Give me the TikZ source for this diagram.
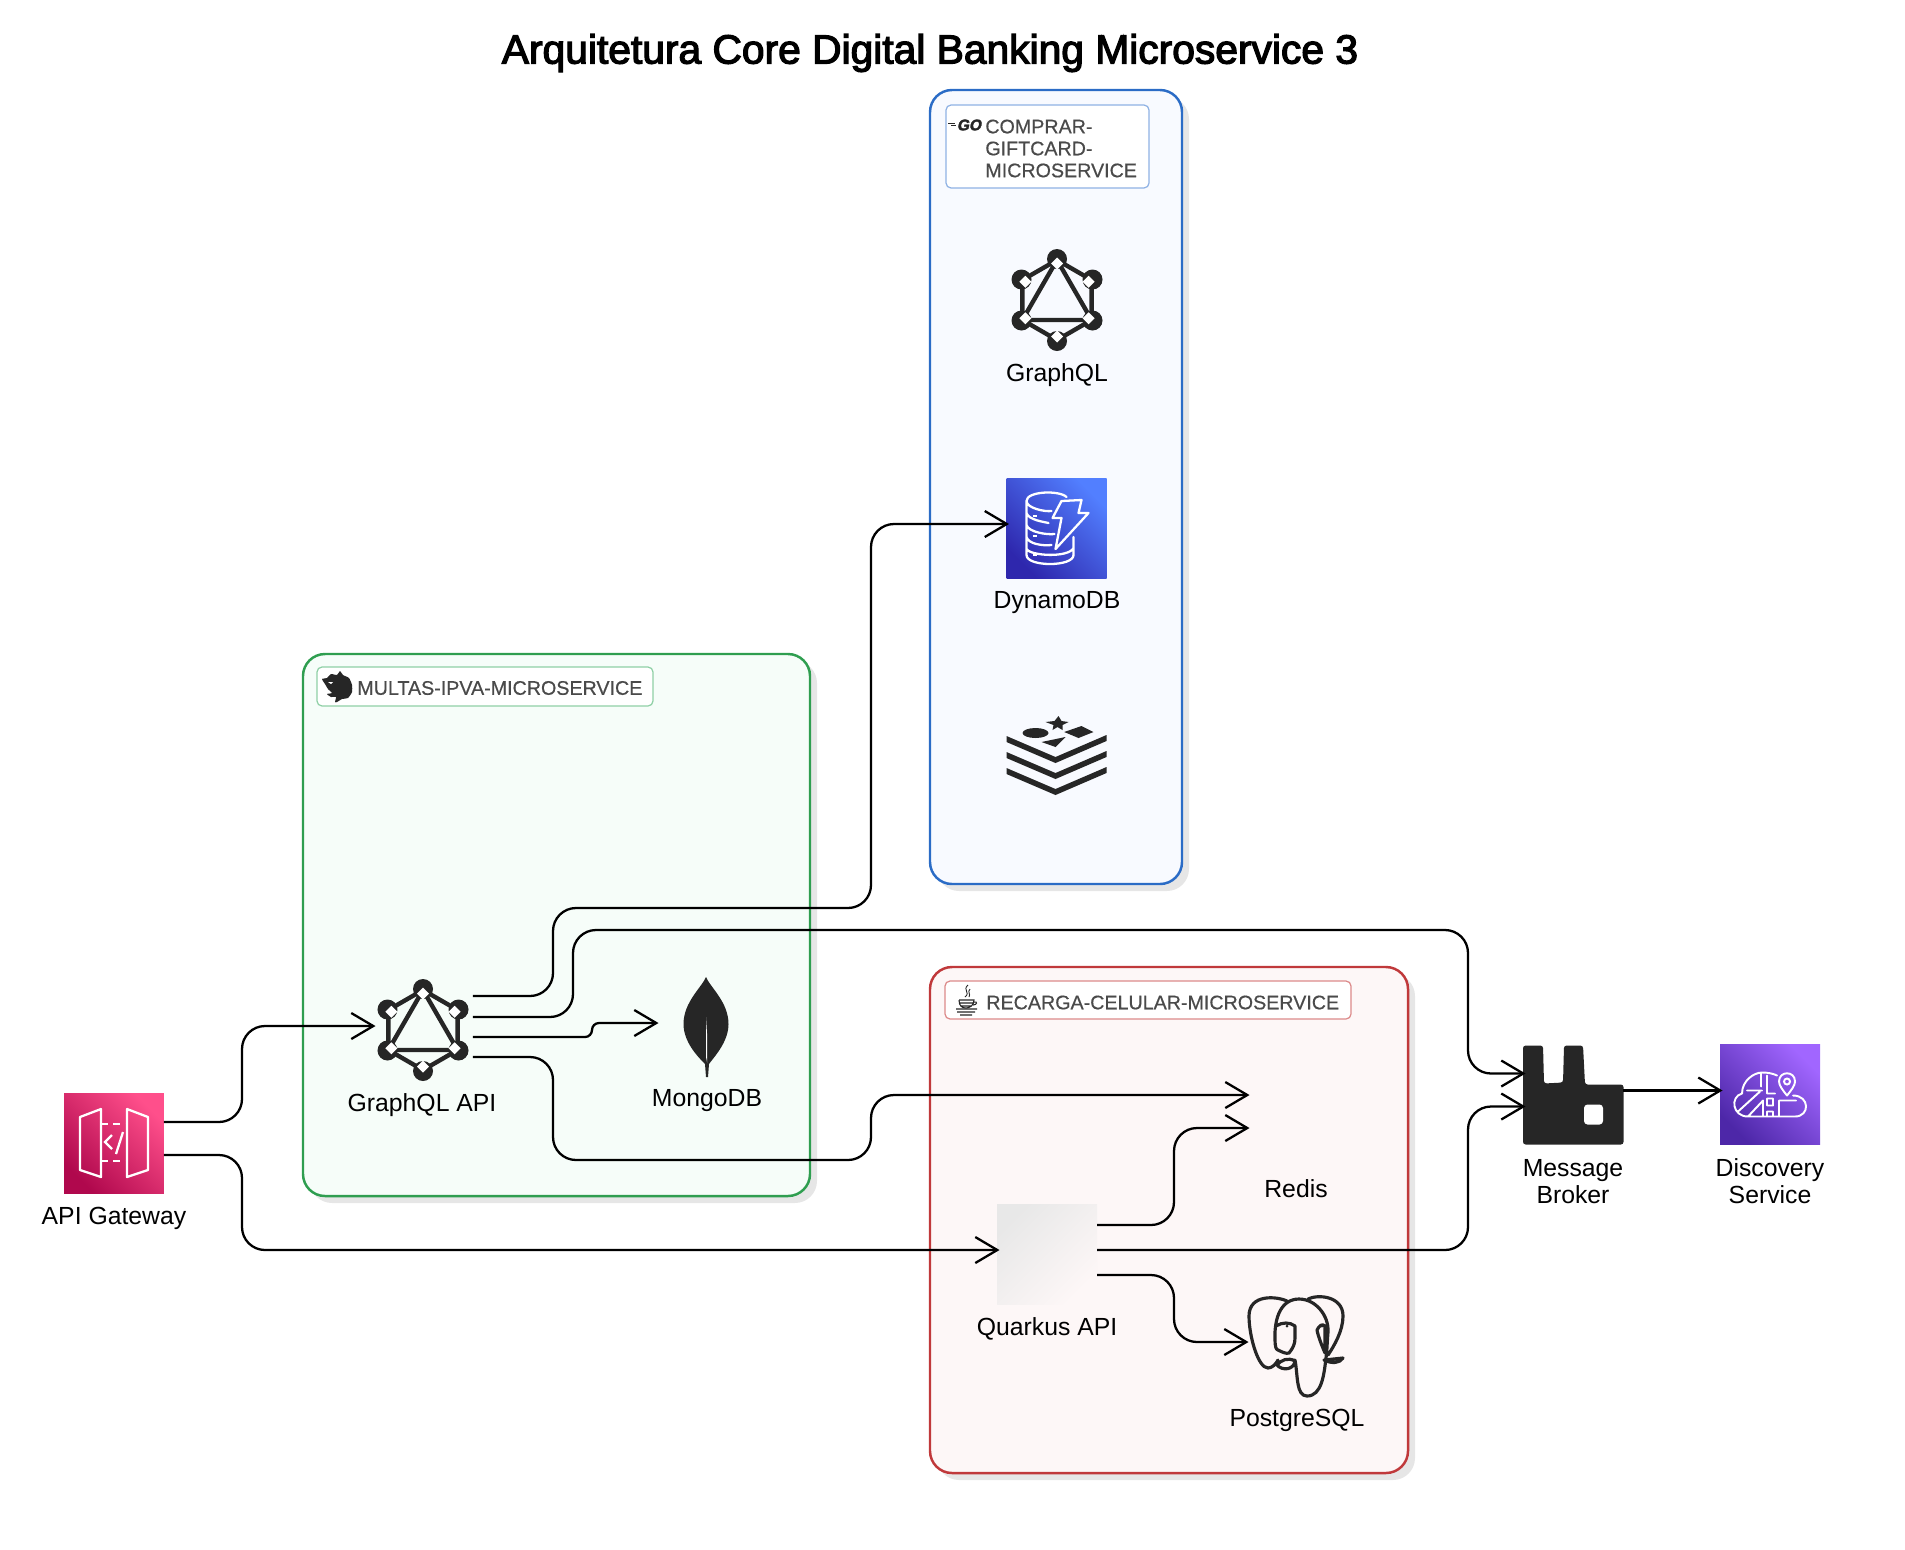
\documentclass[tikz,border=0pt]{standalone}
\usepackage{fontspec}
\setmainfont{Liberation Sans}
\newfontface\titlefont[FakeBold=3]{Liberation Sans}
\newfontface\tagfont[FakeBold=.5]{Liberation Sans}
\newfontface\gofont[FakeBold=2,FakeSlant=.2]{Liberation Sans Bold}
\usetikzlibrary{arrows.meta,calc,fit,shadows}
\definecolor{icondark}{HTML}{262626}
\definecolor{tagtextcolor}{HTML}{4A4A4A}
\definecolor{shadowgray}{HTML}{E6E6E6}
\definecolor{goblue}{HTML}{2B6CC6}
\definecolor{gofill}{HTML}{F8FAFF}
\definecolor{gotag}{HTML}{8FB2E4}
\definecolor{nestgreen}{HTML}{2F9E50}
\definecolor{nestfill}{HTML}{F6FDF9}
\definecolor{nesttag}{HTML}{8FD0A6}
\definecolor{javared}{HTML}{C0393B}
\definecolor{javafill}{HTML}{FDF7F7}
\definecolor{javatag}{HTML}{DC8A8A}
\definecolor{dynamolow}{HTML}{2E27AD}
\definecolor{dynamohigh}{HTML}{527FFF}
\definecolor{gatewaylow}{HTML}{B0084D}
\definecolor{gatewayhigh}{HTML}{FF4F8B}
\definecolor{discoverylow}{HTML}{4D27A8}
\definecolor{discoveryhigh}{HTML}{A166FF}
\tikzset{
    groupbox/.style={draw=#1,line width=1.4pt,rounded corners=.44cm,inner sep=0pt,outer sep=0pt,
        drop shadow={shadow xshift=.14cm,shadow yshift=-.14cm,fill=shadowgray,opacity=1}},
    tagbox/.style={draw=#1,fill=white,line width=.7pt,rounded corners=.1cm,inner sep=0pt,outer sep=0pt},
    tagtext/.style={anchor=west,align=left,inner sep=0pt,text=tagtextcolor,font=\fontsize{11.2}{12.5}\tagfont},
    iconbox/.style={rectangle,minimum size=2cm,inner sep=0pt,outer sep=0pt},
    awsicon/.style 2 args={iconbox,bottom color=#1,top color=#2,shading angle=-45},
    iconlabel/.style={align=center,inner sep=0pt,font=\fontsize{14.1}{15.4}\selectfont},
    conn/.style={-{Straight Barb[length=.44cm,width=.52cm]},line width=1.3pt,rounded corners=.46cm,shorten >=-.05cm},
    graphql mark/.pic={
        \draw[icondark,line width=2.5pt,line join=round] (90:40) -- (30:40) -- (-30:40) -- (-90:40) -- (-150:40) -- (150:40) -- cycle;
        \draw[icondark,line width=2.5pt,line join=round] (-90:40) -- (30:40) -- (150:40) -- cycle;
        \foreach \a in {30,90,...,330} {
            \fill[icondark] (\a:41) circle (10);
            \fill[white] (\a:36.5) ++(0,-6) -- ++(6,6) -- ++(-6,6) -- ++(-6,-6) -- cycle;
        }
    },
    dynamo mark/.pic={
        \draw[white,line width=1.3pt,line join=round,line cap=round]
            (10,-31) .. controls (3,-38) and (-30,-37) .. (-30,-27) .. controls (-30,-20) and (-12,-16) .. (-5,-17)
            (-30,-27) -- (-30,27) .. controls (-30,39) and (17,39) .. (17,27) -- (17,9)
            (-30,-15) .. controls (-28,-8) and (-12,-6) .. (-8,-5)
            (-30,-3) .. controls (-28,4) and (-10,7) .. (-2,6)
            (-30,9) .. controls (-28,16) and (-14,18) .. (-5,17)
            (-30,21) .. controls (-26,28) and (12,30) .. (17,20);
        \draw[white,line width=1.3pt,line join=round] (5,-27) -- (25,-28) -- (22,-15) -- (32,-15) -- (-1,21) -- (5,-10) -- (-4,-10) -- cycle;
        \foreach \yy in {-12,8,27} { \draw[white,line width=1.3pt] (-24,\yy) -- (-20,\yy); }
    },
    redis mark/.pic={
        \foreach \yy in {0,16,32} {
            \fill[icondark] (-50,-20+\yy) -- (-1,1+\yy) -- (50,-21+\yy) -- (50,-15+\yy) -- (-1,7+\yy) -- (-50,-14+\yy) -- cycle;
        }
        \fill[icondark] (-21,-23) ellipse (13 and 5);
        \fill[icondark] (7.7,-24) -- (25,-30) -- (37,-24) -- (22,-18) -- cycle;
        \fill[icondark] (-15,-14) -- (9,-19) -- (-1,-9) -- cycle;
        \fill[icondark] (2,-40) -- (5,-35) -- (12,-34) -- (6,-31) -- (6,-26) -- (1,-29) -- (-4,-26) -- (-3,-31) -- (-11,-34) -- (-2,-35) -- cycle;
    },
    gateway mark/.pic={
        \draw[white,line width=1.3pt,line join=round] (-34,-26) -- (-13,-34) -- (-13,34) -- (-34,27) -- cycle;
        \draw[white,line width=1.3pt,line join=round] (13,-34) -- (34,-26) -- (34,27) -- (13,34) -- cycle;
        \draw[white,line width=1.3pt,dash pattern=on 4pt off 3pt] (-13,-19) -- (13,-19) (-13,18) -- (13,18);
        \draw[white,line width=1.3pt] (-2,-8) -- (-9,-1) -- (-2,6) (9,-11) -- (2,11);
    },
    discovery mark/.pic={
        \draw[white,line width=1.1pt,line join=round,line cap=round]
            (-22,22) .. controls (-38,22) and (-40,2) .. (-28,-1) .. controls (-28,-14) and (-16,-22) .. (-8,-22) .. controls (-2,-22) and (3,-21) .. (7,-19)
            (-22,22) -- (25,22) .. controls (40,22) and (40,1) .. (23,1)
            (-32,17) -- (-10,-3) (-22,22) -- (-7,6) -- (-7,22) (-23,-4) -- (-8,-4) (-9,-22) -- (-9,-8)
            (-3,-19) -- (-3,-1) -- (5,-1)
            (-3,4) rectangle (3,11)
            (-3,17) rectangle (3,22)
            (9,22) -- (9,6) -- (26,6);
        \draw[white,line width=1.1pt,line join=round] (17,1) .. controls (13,-4) and (9,-9) .. (9,-13) .. controls (9,-24) and (25,-24) .. (25,-13) .. controls (25,-9) and (21,-4) .. (17,1) -- cycle;
        \draw[white,line width=1.1pt] (17,-13) circle (3);
    },
    broker mark/.pic={
        \fill[icondark,rounded corners=1.5pt] (-50,-49) -- (-30,-49) -- (-29,-11) -- (-10,-12) -- (-9,-49) -- (10,-49) -- (12,-10) -- (50.5,-10) -- (50.5,50) -- (-50,50) -- cycle;
        \fill[white,rounded corners=2pt] (11,10) rectangle (30,30);
    },
    mongo mark/.pic={
        \fill[icondark] (0,-50) .. controls (4,-40) and (22.5,-25) .. (22.5,-3) .. controls (22.5,15) and (8,30) .. (3,37) -- (2,50) -- (0,50) -- (-1,37) .. controls (-8,30) and (-22.5,15) .. (-22.5,-3) .. controls (-22.5,-25) and (-4,-40) .. (0,-50) -- cycle;
        \fill[white] (0,-10) -- (1.2,10) -- (1.2,36) -- (0,30) -- cycle;
    },
    postgres mark/.pic={
        \draw[icondark,line width=1.8pt,line join=round,line cap=round]
            (-9,-45) .. controls (-20,-50) and (-47,-52) .. (-47,-30) .. controls (-47,-10) and (-38,22) .. (-28,22) .. controls (-24,22) and (-20,18) .. (-18,14)
            (-21,-6) .. controls (-22,-30) and (-14,-47) .. (3,-47) .. controls (20,-47) and (33,-30) .. (32,-14) .. controls (31,-2) and (31,5) .. (30,12) .. controls (28,28) and (26,50) .. (11,50) .. controls (0,50) and (2,30) .. (-1,14)
            (-21,-6) .. controls (-21,0) and (-20,4) .. (-18,4) .. controls (-14,6) and (-10,8) .. (-7,7) .. controls (-3,2) and (-1,-2) .. (-1,-8) -- (-1,-20) .. controls (-6,-24) and (-14,-24) .. (-20,-20)
            (12,-47) .. controls (22,-52) and (47,-50) .. (47,-30) .. controls (47,-15) and (38,0) .. (32,9)
            (21,-16) .. controls (22,-10) and (26,0) .. (29,7) -- (29,-20) .. controls (26,-23) and (23,-20) .. (21,-16)
            (28,14) -- (47,12) .. controls (44,17) and (36,18) .. (28,14)
            (-19,19) .. controls (-15,14) and (-8,11) .. (-1,15) .. controls (-2,24) and (-14,25) .. (-19,19);
        \fill[icondark] (-9,-20) circle (1.5) (26,-20) circle (1.5);
    },
    nest mark/.pic={
        \fill[icondark] plot[smooth cycle,tension=.35] coordinates {(-15,-8) (-10,-9) (-6,-13) (0,-12) (3,-16) (6,-12) (12,-9) (15,-2) (15,5) (11,11) (5,12) (0,15) (-2,15) (-1,10) (-6,10) (-10,7) (-5,6) (-9,2) (-12,-3)};
        \fill[white] (-9,-5) -- (-4,-5) -- (-6,-3) -- cycle;
    },
    java mark/.pic={
        \draw[icondark,line width=.5pt] (2,-15) .. controls (-4,-10) and (5,-8) .. (-1,-3) (4,-11) .. controls (1,-8) and (5,-6) .. (3,-3);
        \draw[icondark,line width=.6pt] (-7,0) -- (8,0) .. controls (8,6) and (3,8) .. (0,8) .. controls (-4,8) and (-7,6) .. (-7,0) (-6,3) -- (7,3) (-5,6) -- (5,6);
        \draw[icondark,line width=.6pt] (8,2) .. controls (12,1) and (11,5) .. (7,5) (-10,9) -- (11,9) (-9,12) -- (9,12) (-6,15) -- (6,15);
    },
    go mark/.pic={
        \node[inner sep=0pt,text=icondark,font=\fontsize{8.8}{8.8}\gofont] (gotext) at (7,0) {GO};
        \draw[icondark,line width=.4pt] (-14,-2) -- (-7,-2) (-11,0) -- (-6,0);
    },
}

\begin{document}
\begin{tikzpicture}[x=.02cm,y=-.02cm]
    \useasboundingbox (0,0) rectangle (1905,1549);

    \node[inner sep=0pt,font=\fontsize{23.2}{26}\titlefont] (title) at (930,53) {Arquitetura Core Digital Banking Microservice 3};

    \node[groupbox=goblue,fill=gofill,fit={(930,90) (1182,884)}] (gogroup) {};
    \node[tagbox=gotag,fit={(946,105) (1149,188)}] (gotagbox) {};
    \node[tagtext] (gotagtext) at (985,148.5) {COMPRAR-\\GIFTCARD-\\MICROSERVICE};
    \pic at (962,125) {go mark};

    \node[groupbox=nestgreen,fill=nestfill,fit={(303,654) (810,1196)}] (nestgroup) {};
    \node[tagbox=nesttag,fit={(317,667) (653,706)}] (nesttagbox) {};
    \node[tagtext] (nesttagtext) at (357,688) {MULTAS-IPVA-MICROSERVICE};
    \pic at (337,687) {nest mark};

    \node[groupbox=javared,fill=javafill,fit={(930,967) (1408,1473)}] (javagroup) {};
    \node[tagbox=javatag,fit={(945,981) (1351,1019)}] (javatagbox) {};
    \node[tagtext] (javatagtext) at (986,1002.5) {RECARGA-CELULAR-MICROSERVICE};
    \pic at (966,1000) {java mark};

    \node[awsicon={dynamolow}{dynamohigh}] (dynamo) at (1056.5,528) {};
    \pic at (dynamo) {dynamo mark};
    \node[awsicon={gatewaylow}{gatewayhigh}] (gateway) at (114,1143) {};
    \pic at (gateway) {gateway mark};
    \node[awsicon={discoverylow}{discoveryhigh}] (discovery) at (1770,1094.5) {};
    \pic at (discovery) {discovery mark};
    \node[iconbox,top color=black!9,bottom color=javafill,shading angle=45] (quarkus) at (1047,1254) {};

    \node[iconbox] (gographql) at (1057,300) {};
    \pic at (gographql) {graphql mark};
    \node[iconbox] (goredis) at (1056.5,756) {};
    \pic at (goredis) {redis mark};
    \node[iconbox] (gqlapi) at (423,1030) {};
    \pic at (gqlapi) {graphql mark};
    \node[iconbox] (mongo) at (706,1027) {};
    \pic at (mongo) {mongo mark};
    \node[iconbox] (javaredis) at (1297,1116) {};
    \node[iconbox] (postgres) at (1296,1346) {};
    \pic at (postgres) {postgres mark};
    \node[iconbox] (broker) at (1573,1094.5) {};
    \pic at (broker) {broker mark};

    \node[iconlabel] (gographqllabel) at (1057,375) {GraphQL};
    \node[iconlabel] (dynamolabel) at (1057,603) {DynamoDB};
    \node[iconlabel] (gatewaylabel) at (114,1218) {API Gateway};
    \node[iconlabel] (gqlapilabel) at (422,1105.5) {GraphQL API};
    \node[iconlabel] (mongolabel) at (707,1101) {MongoDB};
    \node[iconlabel] (quarkuslabel) at (1047,1329) {Quarkus API};
    \node[iconlabel] (javaredislabel) at (1296,1189) {Redis};
    \node[iconlabel] (postgreslabel) at (1297,1420.5) {PostgreSQL};
    \node[iconlabel] (brokerlabel) at (1573,1181.5) {Message\\Broker};
    \node[iconlabel] (discoverylabel) at (1770,1181) {Discovery\\Service};

    \draw[conn] ($(gateway.east)+(0,-21)$) -- (242,1122) -- (242,1026) -- ($(gqlapi.west)+(0,-4)$);
    \draw[conn] ($(gateway.east)+(0,12)$) -- (242,1155) -- (242,1250) -- ($(quarkus.west)+(0,-4)$);
    \draw[conn] ($(gqlapi.east)+(0,-34)$) -- (553,996) -- (553,908) -- (871,908) -- (871,524) -- ($(dynamo.west)+(0,-4)$);
    \draw[conn] ($(gqlapi.east)+(0,-13)$) -- (573,1017) -- (573,930) -- (1468,930) -- (1468,1073.5) -- ($(broker.west)+(0,-21)$);
    \draw[conn,rounded corners=.14cm] ($(gqlapi.east)+(0,7)$) -- (592,1037) -- (592,1023) -- ($(mongo.west)+(0,-4)$);
    \draw[conn] ($(gqlapi.east)+(0,27)$) -- (553,1057) -- (553,1160) -- (871,1160) -- (871,1095) -- ($(javaredis.west)+(0,-21)$);
    \draw[conn] ($(quarkus.east)+(0,-29)$) -- (1174,1225) -- (1174,1128) -- ($(javaredis.west)+(0,12)$);
    \draw[conn] ($(quarkus.east)+(0,-4)$) -- (1468,1250) -- (1468,1106.5) -- ($(broker.west)+(0,12)$);
    \draw[conn] ($(quarkus.east)+(0,21)$) -- (1174,1275) -- (1174,1342) -- ($(postgres.west)+(0,-4)$);
    \draw[conn] ($(broker.east)+(0,-4)$) -- ($(discovery.west)+(0,-4)$);
\end{tikzpicture}
\end{document}
